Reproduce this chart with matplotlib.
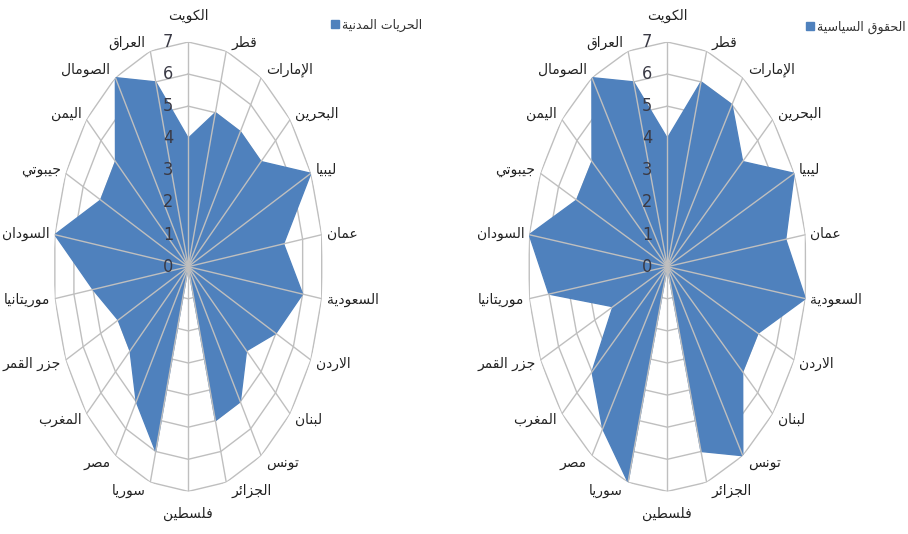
import numpy as np
import matplotlib
matplotlib.use('Agg')
import matplotlib.pyplot as plt

# countries, clockwise from the top
countries = ['الكويت', 'قطر', 'الإمارات', 'البحرين', 'ليبيا', 'عمان', 'السعودية',
             'الاردن', 'لبنان', 'تونس', 'الجزائر', 'فلسطين', 'سوريا', 'مصر',
             'المغرب', 'جزر القمر', 'موريتانيا', 'السودان', 'جيبوتي', 'اليمن',
             'الصومال', 'العراق']
civil = [4, 5, 5, 5, 7, 5, 6, 5, 4, 5, 5, 0, 6, 5, 4, 4, 5, 7, 5, 5, 7, 6]
political = [4, 6, 6, 5, 7, 6, 7, 5, 5, 7, 6, 0, 7, 6, 5, 3, 6, 7, 5, 5, 7, 6]
civil_name = 'الحريات المدنية'
political_name = 'الحقوق السياسية'
rings = list(range(0, 8))

# arabic presentation forms: isolated code point, and whether the letter joins forward
FORMS = {
    'ا': (0xFE8D, False), 'أ': (0xFE83, False), 'إ': (0xFE87, False),
    'ب': (0xFE8F, True), 'ة': (0xFE93, False), 'ت': (0xFE95, True),
    'ج': (0xFE9D, True), 'ح': (0xFEA1, True), 'د': (0xFEA9, False),
    'ر': (0xFEAD, False), 'ز': (0xFEAF, False), 'س': (0xFEB1, True),
    'ص': (0xFEB9, True), 'ط': (0xFEC1, True), 'ع': (0xFEC9, True),
    'غ': (0xFECD, True), 'ف': (0xFED1, True), 'ق': (0xFED5, True),
    'ك': (0xFED9, True), 'ل': (0xFEDD, True), 'م': (0xFEE1, True),
    'ن': (0xFEE5, True), 'ه': (0xFEE9, True), 'و': (0xFEED, False),
    'ي': (0xFEF1, True), 'ئ': (0xFE89, True),
    'لا': (0xFEFB, False), 'لإ': (0xFEF9, False), 'لأ': (0xFEF7, False),
}


def shape(text):
    units = []
    i = 0
    while i < len(text):
        if text[i:i + 2] in FORMS and len(text[i:i + 2]) == 2:
            units.append(text[i:i + 2])
            i += 2
        else:
            units.append(text[i])
            i += 1
    out = []
    for k, u in enumerate(units):
        if u not in FORMS:
            out.append(u)
            continue
        base, fwd = FORMS[u]
        back = k > 0 and units[k - 1] in FORMS and FORMS[units[k - 1]][1]
        nxt = fwd and k + 1 < len(units) and units[k + 1] in FORMS
        if back and nxt:
            code = base + 3
        elif back:
            code = base + 1
        elif nxt:
            code = base + 2
        else:
            code = base
        out.append(chr(code))
    return ''.join(reversed(out))


theta = np.arange(len(countries)) * 2 * np.pi / len(countries)
blue = '#4F81BD'
grid_col = '#BFBFBF'

fig = plt.figure(figsize=(9.08, 5.34), dpi=100)


def radar(rect, values, name, legend_xy):
    ax = fig.add_axes(rect, projection='polar')
    ax.set_aspect('auto')
    ax.set_theta_zero_location('N')
    ax.set_theta_direction(-1)
    ax.set_ylim(0, 7)
    ax.set_xticks([])
    ax.set_yticks([])
    ax.grid(False)
    ax.spines['polar'].set_visible(False)
    ax.patch.set_alpha(0)

    closed = np.append(theta, theta[0])
    for r in rings[1:]:
        ax.plot(closed, [r] * len(closed), color=grid_col, lw=1, zorder=1)
    ax.fill(theta, values, color=blue, zorder=2, label=shape(name))
    for t in theta:
        ax.plot([t, t], [0, 7], color=grid_col, lw=1, zorder=3)

    for r in rings:
        ax.annotate(str(r), xy=(0, r), xytext=(-15, 0), textcoords='offset pixels',
                    ha='right', va='center', fontsize=13, fontstretch='condensed',
                    color='#3a3a45', zorder=4)

    for t, lab in zip(theta, countries):
        s, c = np.sin(t), np.cos(t)
        if abs(s) < 0.05:
            off, ha = (0, 26 if c > 0 else -23), 'center'
        else:
            off, ha = (5 * np.sign(s), 9 * c), ('left' if s > 0 else 'right')
        ax.annotate(shape(lab), xy=(t, 7), xytext=off, textcoords='offset pixels',
                    ha=ha, va='center', fontsize=10, color='#222222')

    ax.legend(loc='center left', bbox_to_anchor=legend_xy, bbox_transform=fig.transFigure,
              frameon=False, borderpad=0, borderaxespad=0, handlelength=0.6,
              handleheight=0.65, handletextpad=0.3, fontsize=9,
              labelcolor='#333333')
    return ax


radar([0.0589, 0.0798, 0.2969, 0.8416], civil, civil_name, (331 / 908, 1 - 25 / 534))
radar([0.5813, 0.0798, 0.3073, 0.8416], political, political_name, (806 / 908, 1 - 27 / 534))

fig.savefig('out.png', dpi=100)
